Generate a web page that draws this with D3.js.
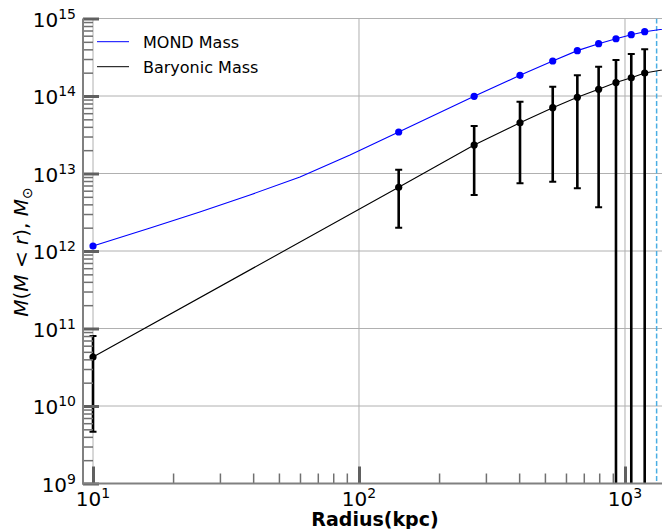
<!DOCTYPE html>
<meta charset="utf-8">
<script src="https://d3js.org/d3.v7.min.js"></script>
<style>
  body { margin: 0; background: #fff; }
  svg { font-family: "DejaVu Sans", sans-serif; }
  .minor line { stroke: #707070; stroke-width: 1.5; }
  .major line { stroke: #606060; stroke-width: 3; }
  .minor .domain, .major .domain { display: none; }
  .grid line { stroke: #b0b0b0; stroke-width: 1; }
</style>
<div id="chart"></div>
<script>
// radii (kpc) of the sampled shells
const radius = [10, 141, 271, 403, 535, 662, 796, 925, 1056, 1186];
// enclosed masses (solar masses)
const mondMass = [1.16e12, 3.43e13, 9.9e13, 1.85e14, 2.83e14, 3.85e14, 4.73e14, 5.48e14, 6.18e14, 6.76e14];
const baryonMass = [4.29e10, 6.64e12, 2.33e13, 4.52e13, 7.06e13, 9.62e13, 1.22e14, 1.49e14, 1.72e14, 1.98e14];
const baryonUpper = [8.0e10, 1.12e13, 4.1e13, 8.44e13, 1.32e14, 1.85e14, 2.39e14, 2.92e14, 3.48e14, 4.01e14];
const baryonLower = [4.66e9, 2.0e12, 5.28e12, 7.48e12, 7.84e12, 6.44e12, 3.66e12, 0, 0, 0]; // 0 -> runs off the axis

// MOND curve between the inner point and the first shell (no markers)
const mondCurveR = [16.4, 25.2, 38.9, 60.0, 92.5];
const mondCurveM = [1.98e12, 3.19e12, 5.28e12, 9.02e12, 1.73e13];

// both curves carry on past the right edge
const tailR = 1500;
const mondTail = 7.57e14;
const baryonTail = 2.28e14;

const rCut = 1315; // dashed vertical marker
const xLim = [9.17, 1610];
const yLim = [1e9, 1e15];

const W = 662, H = 529;
const mLeft = 83, mRight = 680, mTop = 18.5, mBottom = 483.5;

const svg = d3.select("#chart").append("svg")
    .attr("width", W)
    .attr("height", H);

const x = d3.scaleLog().domain(xLim).range([mLeft, mRight]);
const y = d3.scaleLog().domain(yLim).range([mBottom, mTop]);

const isMajor = v => Math.abs(Math.log10(v) - Math.round(Math.log10(v))) < 1e-9;
const xTicks = x.ticks();
const yTicks = y.ticks();
const xMajor = xTicks.filter(isMajor), xMinor = xTicks.filter(v => !isMajor(v));
const yMajor = yTicks.filter(isMajor), yMinor = yTicks.filter(v => !isMajor(v));

svg.append("clipPath").attr("id", "plot")
  .append("rect")
    .attr("x", mLeft).attr("y", mTop)
    .attr("width", mRight - mLeft).attr("height", mBottom - mTop);

// grid at decades
const grid = svg.append("g").attr("class", "grid");
grid.selectAll(".gx").data(xMajor).join("line")
    .attr("x1", d => x(d)).attr("x2", d => x(d))
    .attr("y1", mTop).attr("y2", mBottom);
grid.selectAll(".gy").data(yMajor).join("line")
    .attr("x1", mLeft).attr("x2", mRight)
    .attr("y1", d => y(d)).attr("y2", d => y(d));

const plot = svg.append("g").attr("clip-path", "url(#plot)");

// dashed marker
plot.append("line")
    .attr("x1", x(rCut)).attr("x2", x(rCut))
    .attr("y1", mTop).attr("y2", mBottom)
    .attr("stroke", "#4aaee3")
    .attr("stroke-width", 1.5)
    .attr("stroke-dasharray", "5,2.5");

// lines
const mondLine = radius.map((r, i) => [r, mondMass[i]])
    .concat(mondCurveR.map((r, i) => [r, mondCurveM[i]]))
    .concat([[tailR, mondTail]])
    .sort((a, b) => a[0] - b[0]);
const baryonLine = radius.map((r, i) => [r, baryonMass[i]])
    .concat([[tailR, baryonTail]]);

const line = d3.line().x(d => x(d[0])).y(d => y(d[1]));

plot.append("path")
    .attr("d", line(mondLine))
    .attr("fill", "none")
    .attr("stroke", "blue")
    .attr("stroke-width", 1.1);

plot.append("path")
    .attr("d", line(baryonLine))
    .attr("fill", "none")
    .attr("stroke", "black")
    .attr("stroke-width", 1.1);

// error bars
const lowY = v => y(Math.max(v, yLim[0]));
const eb = plot.append("g").attr("stroke", "black");
eb.selectAll(".bar").data(radius).join("line")
    .attr("x1", d => x(d)).attr("x2", d => x(d))
    .attr("y1", (d, i) => y(baryonUpper[i]))
    .attr("y2", (d, i) => lowY(baryonLower[i]))
    .attr("stroke-width", 2.6);
eb.selectAll(".capTop").data(radius).join("line")
    .attr("x1", d => x(d) - 3.5).attr("x2", d => x(d) + 3.5)
    .attr("y1", (d, i) => y(baryonUpper[i]))
    .attr("y2", (d, i) => y(baryonUpper[i]))
    .attr("stroke-width", 2);
eb.selectAll(".capLow").data(radius.filter((d, i) => baryonLower[i] > 0)).join("line")
    .attr("x1", d => x(d) - 3.5).attr("x2", d => x(d) + 3.5)
    .attr("y1", d => y(baryonLower[radius.indexOf(d)]))
    .attr("y2", d => y(baryonLower[radius.indexOf(d)]))
    .attr("stroke-width", 2);

// markers
svg.append("g").selectAll("circle").data(radius).join("circle")
    .attr("cx", d => x(d))
    .attr("cy", (d, i) => y(mondMass[i]))
    .attr("r", 3.6)
    .attr("fill", "blue");
svg.append("g").selectAll("circle").data(radius).join("circle")
    .attr("cx", d => x(d))
    .attr("cy", (d, i) => y(baryonMass[i]))
    .attr("r", 3.6)
    .attr("fill", "black");

// axes: ticks point inward
svg.append("g").attr("class", "minor")
    .attr("transform", `translate(${mLeft},0)`)
    .call(d3.axisLeft(y).tickValues(yMinor).tickSize(-10).tickSizeOuter(0).tickFormat(""));
svg.append("g").attr("class", "major")
    .attr("transform", `translate(${mLeft},0)`)
    .call(d3.axisLeft(y).tickValues(yMajor).tickSize(-16).tickSizeOuter(0).tickFormat(""));
svg.append("g").attr("class", "minor")
    .attr("transform", `translate(0,${mBottom})`)
    .call(d3.axisBottom(x).tickValues(xMinor).tickSize(-10).tickSizeOuter(0).tickFormat(""));
svg.append("g").attr("class", "major")
    .attr("transform", `translate(0,${mBottom})`)
    .call(d3.axisBottom(x).tickValues(xMajor).tickSize(-17).tickSizeOuter(0).tickFormat(""));

// spines
svg.append("line")
    .attr("x1", mLeft).attr("x2", mLeft).attr("y1", mTop).attr("y2", mBottom + 1)
    .attr("stroke", "#808080").attr("stroke-width", 2);
svg.append("line")
    .attr("x1", mLeft - 1).attr("x2", mRight).attr("y1", mBottom).attr("y2", mBottom)
    .attr("stroke", "#808080").attr("stroke-width", 2);

// tick labels, 10^n
const exp = v => Math.round(Math.log10(v));
const ylab = svg.append("g").attr("font-size", 20).attr("text-anchor", "end");
yMajor.forEach(v => {
  const t = ylab.append("text").attr("x", 76).attr("y", y(v) + 8);
  t.append("tspan").text("10");
  t.append("tspan").attr("dy", -8).attr("font-size", 14).text(exp(v));
});
const xlab = svg.append("g").attr("font-size", 20).attr("text-anchor", "middle");
xMajor.forEach(v => {
  const t = xlab.append("text").attr("x", x(v)).attr("y", 505.5);
  t.append("tspan").text("10");
  t.append("tspan").attr("dy", -8).attr("font-size", 14).text(exp(v));
});

// axis titles
svg.append("text")
    .attr("x", 375).attr("y", 526)
    .attr("text-anchor", "middle")
    .attr("font-size", 19)
    .attr("font-weight", "bold")
    .text("Radius(kpc)");

const yt = svg.append("text")
    .attr("transform", "translate(28,252) rotate(-90)")
    .attr("text-anchor", "middle")
    .attr("font-size", 20);
[["M", 1], ["(", 0], ["M", 1], [" < ", 0], ["r", 1], [")", 0], [", ", 0], ["M", 1]].forEach(p => {
  yt.append("tspan").attr("font-style", p[1] ? "italic" : "normal").text(p[0]);
});
yt.append("tspan").attr("dy", 4).attr("font-size", 14).text("\u2299");

// legend
const legend = svg.append("g").attr("font-size", 16);
[["MOND Mass", "blue", 41.7], ["Baryonic Mass", "black", 66.7]].forEach(l => {
  legend.append("line")
      .attr("x1", 97).attr("x2", 129)
      .attr("y1", l[2]).attr("y2", l[2])
      .attr("stroke", l[1]).attr("stroke-width", 1);
  legend.append("text")
      .attr("x", 143).attr("y", l[2] + 6)
      .text(l[0]);
});
</script>
